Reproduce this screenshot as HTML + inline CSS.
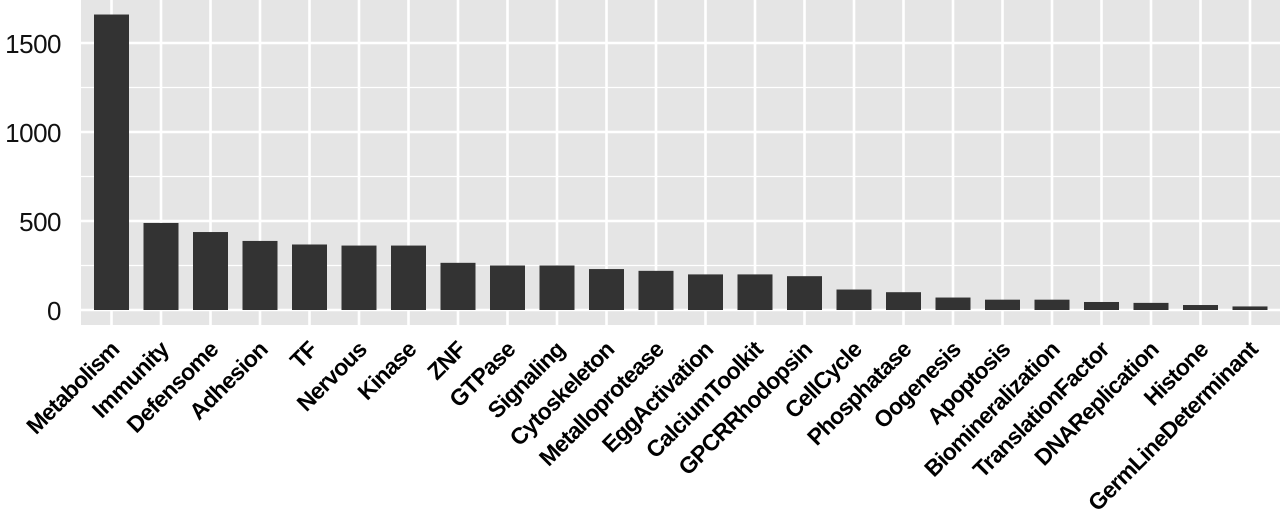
<!DOCTYPE html>
<html><head><meta charset="utf-8"><style>
html,body{margin:0;padding:0;background:#fff;}
svg{display:block;}
</style></head><body>
<svg width="1280" height="514" xmlns="http://www.w3.org/2000/svg" font-family="Liberation Sans, Arial, sans-serif">
<rect x="81" y="0" width="1199" height="325" fill="#e5e5e5"/>
<g stroke="#fff" stroke-width="1.2">
<line x1="81" x2="1280" y1="265.5" y2="265.5"/>
<line x1="81" x2="1280" y1="176.5" y2="176.5"/>
<line x1="81" x2="1280" y1="87.5" y2="87.5"/>
</g>
<g stroke="#fff" stroke-width="2.6">
<line x1="81" x2="1280" y1="310" y2="310"/>
<line x1="81" x2="1280" y1="221" y2="221"/>
<line x1="81" x2="1280" y1="132" y2="132"/>
<line x1="81" x2="1280" y1="43" y2="43"/>
</g>
<g id="bars"></g>
<g font-size="26" text-anchor="end" fill="#111" letter-spacing="-0.5">
<text x="61" y="320">0</text>
<text x="61" y="231">500</text>
<text x="61" y="142">1000</text>
<text x="61" y="53">1500</text>
</g>
<g id="labels" font-size="23" font-weight="bold" text-anchor="end" fill="#000"></g>
<script>
var d=[["Metabolism",1660],["Immunity",489],["Defensome",438],["Adhesion",388],["TF",368],["Nervous",362],["Kinase",362],["ZNF",265],["GTPase",250],["Signaling",250],["Cytoskeleton",230],["Metalloprotease",220],["EggActivation",200],["CalciumToolkit",200],["GPCRRhodopsin",190],["CellCycle",115],["Phosphatase",100],["Oogenesis",70],["Apoptosis",58],["Biomineralization",58],["TranslationFactor",45],["DNAReplication",40],["Histone",28],["GermLineDeterminant",20]];
var ns="http://www.w3.org/2000/svg",b=document.getElementById("bars"),l=document.getElementById("labels"),g=document.querySelector("svg");
var vg=document.createElementNS(ns,"g");vg.setAttribute("stroke","#fff");vg.setAttribute("stroke-width","2.6");
g.insertBefore(vg,b);
d.forEach(function(e,i){var c=111.5+49.5*i;
var ln=document.createElementNS(ns,"line");ln.setAttribute("x1",c);ln.setAttribute("x2",c);ln.setAttribute("y1",0);ln.setAttribute("y2",325);vg.appendChild(ln);
var h=e[1]*0.178;var r=document.createElementNS(ns,"rect");r.setAttribute("x",c-17.5);r.setAttribute("width",35);r.setAttribute("y",310-h);r.setAttribute("height",h);r.setAttribute("fill","#333");b.appendChild(r);
var t=document.createElementNS(ns,"text");t.setAttribute("transform","translate("+(c+9)+",351) rotate(-45)");t.setAttribute("letter-spacing","-0.7");t.textContent=e[0];l.appendChild(t);});
</script>
</svg>
</body></html>
